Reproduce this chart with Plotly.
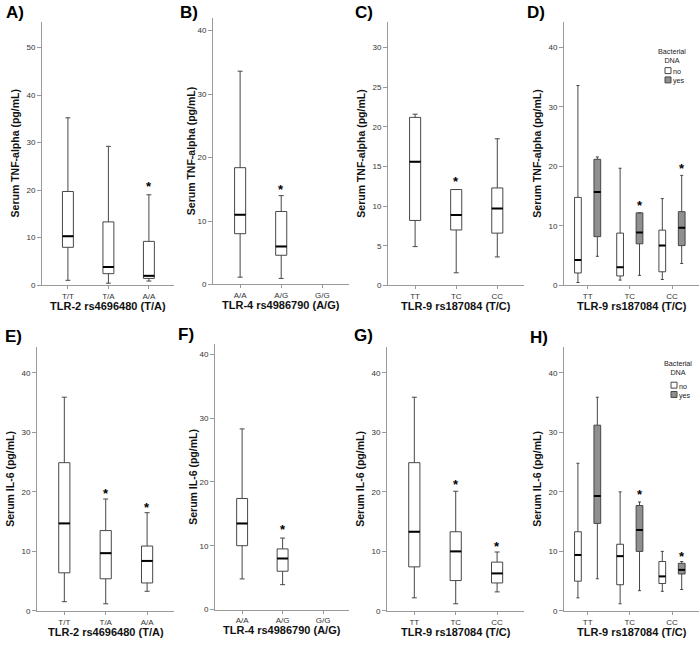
import plotly.graph_objects as go

W, H = 700, 646

# ---------------- data ----------------
tlr2_cats = ["T/T", "T/A", "A/A"]
tlr4_cats = ["A/A", "A/G", "G/G"]
tlr9_cats = ["TT", "TC", "CC"]

# A) TNF-alpha by TLR-2 rs4696480
a_low = [1.0, 0.4, 0.85]
a_q1 = [7.95, 2.4, 1.4]
a_med = [10.3, 3.8, 1.95]
a_q3 = [19.7, 13.3, 9.2]
a_high = [35.2, 29.2, 19.0]
a_star = [None, None, 21.3]

# B) TNF-alpha by TLR-4 rs4986790 (no G/G)
b_low = [1.15, 0.95, None]
b_q1 = [8.0, 4.6, None]
b_med = [11.0, 6.0, None]
b_q3 = [18.4, 11.5, None]
b_high = [33.6, 14.0, None]
b_star = [None, 15.5, None]

# C) TNF-alpha by TLR-9 rs187084
c_low = [4.9, 1.6, 3.6]
c_q1 = [8.2, 7.0, 6.6]
c_med = [15.6, 8.9, 9.7]
c_q3 = [21.2, 12.1, 12.3]
c_high = [21.6, 12.1, 18.5]
c_star = [None, 13.5, None]

# D) TNF-alpha by TLR-9 rs187084 and bacterial DNA
d_no_low = [0.5, 0.9, 1.0]
d_no_q1 = [2.1, 1.6, 2.3]
d_no_med = [4.3, 3.05, 6.7]
d_no_q3 = [14.8, 8.8, 9.3]
d_no_high = [33.6, 19.7, 14.6]
d_no_star = [None, None, None]
d_yes_low = [4.9, 1.7, 3.7]
d_yes_q1 = [8.2, 7.0, 6.7]
d_yes_med = [15.7, 8.9, 9.7]
d_yes_q3 = [21.2, 12.2, 12.4]
d_yes_high = [21.6, 12.2, 18.5]
d_yes_star = [None, 13.9, 20.2]

# E) IL-6 by TLR-2 rs4696480
e_low = [1.55, 1.2, 3.3]
e_q1 = [6.4, 5.4, 4.7]
e_med = [14.7, 9.7, 8.4]
e_q3 = [24.9, 13.5, 10.9]
e_high = [35.9, 18.8, 16.5]
e_star = [None, 20.3, 17.9]

# F) IL-6 by TLR-4 rs4986790 (no G/G)
f_low = [4.8, 3.9, None]
f_q1 = [10.0, 6.0, None]
f_med = [13.5, 8.0, None]
f_q3 = [17.4, 9.5, None]
f_high = [28.3, 11.2, None]
f_star = [None, 13.0, None]

# G) IL-6 by TLR-9 rs187084
g_low = [2.2, 1.2, 3.2]
g_q1 = [7.4, 5.1, 4.7]
g_med = [13.3, 10.0, 6.3]
g_q3 = [24.9, 13.3, 8.2]
g_high = [35.9, 20.1, 9.9]
g_star = [None, 21.7, 11.4]

# H) IL-6 by TLR-9 rs187084 and bacterial DNA
h_no_low = [2.2, 1.2, 3.3]
h_no_q1 = [5.0, 4.4, 4.6]
h_no_med = [9.4, 9.2, 5.8]
h_no_q3 = [13.3, 11.2, 8.3]
h_no_high = [24.8, 20.0, 10.0]
h_no_star = [None, None, None]
h_yes_low = [5.4, 3.4, 3.6]
h_yes_q1 = [14.7, 10.0, 6.2]
h_yes_med = [19.3, 13.6, 6.9]
h_yes_q3 = [31.2, 17.7, 8.0]
h_yes_high = [35.9, 18.3, 8.3]
h_yes_star = [None, 20.0, 9.7]

tnf_title = "Serum TNF-alpha (pg/mL)"
il6_title = "Serum IL-6 (pg/mL)"
x_titles = ["TLR-2 rs4696480 (T/A)", "TLR-4 rs4986790 (A/G)", "TLR-9 rs187084 (T/C)"]
legend_title = "Bacterial<br>DNA"
legend_labels = ["no", "yes"]

# ---------------- styling ----------------
WHITE = "#ffffff"
GREY_FILL = "#8f8f8f"
LINE = "#474747"
AXIS = "#9a9a9a"
FONT = "Liberation Sans"
SINGLE_W = 0.27
GROUP_W = 0.16
GROUP_OFF = 0.23
LEG_FONT = 7.2
LEG_LINE = LEG_FONT * 1.3


def ser(low, q1, med, q3, high, star, fill=WHITE, off=0.0, w=SINGLE_W):
    return dict(low=low, q1=q1, med=med, q3=q3, high=high, star=star,
                fill=fill, off=off, w=w)


def grouped(no, yes):
    return [ser(*no, fill=WHITE, off=-GROUP_OFF, w=GROUP_W),
            ser(*yes, fill=GREY_FILL, off=GROUP_OFF, w=GROUP_W)]


# layout boxes in pixels: x-axis span (left,right), y-axis span (bottom,top)
panels = [
    dict(lab="A)", labxy=(4, 12.5), xs=(42, 174), ys=(287.3, 22), xr=[-0.64, 2.62], ymax=55.4, dt=10,
         cats=tlr2_cats, yt=tnf_title, xt=x_titles[0],
         series=[ser(a_low, a_q1, a_med, a_q3, a_high, a_star)]),
    dict(lab="B)", labxy=(178, 12.5), xs=(213, 349), ys=(286.7, 18), xr=[-0.66, 2.65], ymax=42.0, dt=10,
         cats=tlr4_cats, yt=tnf_title, xt=x_titles[1],
         series=[ser(b_low, b_q1, b_med, b_q3, b_high, b_star)]),
    dict(lab="C)", labxy=(353, 12.5), xs=(388, 524), ys=(287.7, 22), xr=[-0.66, 2.65], ymax=33.25, dt=5,
         cats=tlr9_cats, yt=tnf_title, xt=x_titles[2],
         series=[ser(c_low, c_q1, c_med, c_q3, c_high, c_star)]),
    dict(lab="D)", labxy=(525, 12.5), xs=(564, 699), ys=(287.7, 22), xr=[-0.56, 2.64], ymax=44.3, dt=10,
         cats=tlr9_cats, yt=tnf_title, xt=x_titles[2],
         series=grouped((d_no_low, d_no_q1, d_no_med, d_no_q3, d_no_high, d_no_star),
                        (d_yes_low, d_yes_q1, d_yes_med, d_yes_q3, d_yes_high, d_yes_star)),
         legend=dict(cx=672, ty=56, sx=665, sy=66.5)),
    dict(lab="E)", labxy=(3, 339), xs=(37, 174), ys=(615.7, 349.3), xr=[-0.66, 2.65], ymax=44.4, dt=10,
         cats=tlr2_cats, yt=il6_title, xt=x_titles[0],
         series=[ser(e_low, e_q1, e_med, e_q3, e_high, e_star)]),
    dict(lab="F)", labxy=(176, 337.5), xs=(215, 349), ys=(614.3, 346.7), xr=[-0.67, 2.64], ymax=41.6, dt=10,
         cats=tlr4_cats, yt=il6_title, xt=x_titles[1],
         series=[ser(f_low, f_q1, f_med, f_q3, f_high, f_star)]),
    dict(lab="G)", labxy=(352, 338.5), xs=(387, 524), ys=(615.7, 349.3), xr=[-0.66, 2.65], ymax=44.4, dt=10,
         cats=tlr9_cats, yt=il6_title, xt=x_titles[2],
         series=[ser(g_low, g_q1, g_med, g_q3, g_high, g_star)]),
    dict(lab="H)", labxy=(528, 340), xs=(564, 699), ys=(615.7, 349.3), xr=[-0.56, 2.64], ymax=44.4, dt=10,
         cats=tlr9_cats, yt=il6_title, xt=x_titles[2],
         series=grouped((h_no_low, h_no_q1, h_no_med, h_no_q3, h_no_high, h_no_star),
                        (h_yes_low, h_yes_q1, h_yes_med, h_yes_q3, h_yes_high, h_yes_star)),
         legend=dict(cx=678, ty=371, sx=671, sy=383.5)),
]


def fx(px):
    return px / W


def fy(py):
    return 1 - py / H


fig = go.Figure()
annotations = []
shapes = []
layout_axes = {}

for i, p in enumerate(panels, start=1):
    sfx = "" if i == 1 else str(i)
    xref, yref = "x" + sfx, "y" + sfx
    x0, x1 = p["xs"]
    yb, yt = p["ys"]
    layout_axes["xaxis" + sfx] = dict(
        domain=[fx(x0), fx(x1)], range=p["xr"], anchor=yref,
        tickvals=list(range(len(p["cats"]))), ticktext=p["cats"],
        showline=True, linecolor=AXIS, linewidth=1, ticks="outside", ticklen=3,
        tickcolor=AXIS, showgrid=False, zeroline=False,
        tickfont=dict(family=FONT, size=8, color="#333333"), fixedrange=True)
    ticks = []
    v = 0
    while v <= p["ymax"] + 1e-9:
        ticks.append(v)
        v += p["dt"]
    layout_axes["yaxis" + sfx] = dict(
        domain=[fy(yb), fy(yt)], range=[0, p["ymax"]], anchor=xref,
        tickvals=ticks, showline=True, linecolor=AXIS, linewidth=1,
        ticks="outside", ticklen=4, tickcolor=AXIS, showgrid=False, zeroline=False,
        tickfont=dict(family=FONT, size=8, color="#333333"), fixedrange=True)

    for s in p["series"]:
        idx = [k for k, m in enumerate(s["med"]) if m is not None]
        pos = [k + s["off"] for k in idx]
        fig.add_trace(go.Box(
            x=pos,
            q1=[s["q1"][k] for k in idx], median=[s["med"][k] for k in idx],
            q3=[s["q3"][k] for k in idx], lowerfence=[s["low"][k] for k in idx],
            upperfence=[s["high"][k] for k in idx],
            width=s["w"], whiskerwidth=0.45, fillcolor=s["fill"],
            line=dict(color=LINE, width=1), boxpoints=False,
            xaxis=xref, yaxis=yref, hoverinfo="skip", showlegend=False))
        mx, my = [], []
        for k in idx:
            mx += [k + s["off"] - s["w"] / 2, k + s["off"] + s["w"] / 2, None]
            my += [s["med"][k], s["med"][k], None]
        fig.add_trace(go.Scatter(x=mx, y=my, mode="lines", line=dict(color="black", width=2),
                                 xaxis=xref, yaxis=yref, hoverinfo="skip", showlegend=False))
        for k, st in enumerate(s["star"]):
            if st is not None:
                annotations.append(dict(x=k + s["off"], y=st, xref=xref, yref=yref, text="<b>*</b>",
                                        showarrow=False, yshift=-3,
                                        font=dict(family=FONT, size=13, color="black")))

    # panel label
    lx, ly = p["labxy"]
    annotations.append(dict(x=fx(lx), y=fy(ly), xref="paper", yref="paper", text="<b>%s</b>" % p["lab"],
                            showarrow=False, xanchor="left", yanchor="middle",
                            font=dict(family=FONT, size=17, color="black")))
    # y title
    yc = (yb + yt) / 2
    ytx = x0 - 27 if i not in (2, 6) else x0 - 22
    annotations.append(dict(x=fx(ytx), y=fy(yc), xref="paper", yref="paper", text="<b>%s</b>" % p["yt"],
                            textangle=-90, showarrow=False, xanchor="center", yanchor="middle",
                            font=dict(family=FONT, size=10.5, color="#111111")))
    # x title
    xty = yb + 21
    annotations.append(dict(x=fx((x0 + x1) / 2), y=fy(xty), xref="paper", yref="paper",
                            text="<b>%s</b>" % p["xt"], showarrow=False, xanchor="center",
                            yanchor="middle", font=dict(family=FONT, size=11, color="#111111")))

    # legend (custom: title + two swatches)
    if "legend" in p:
        lg = p["legend"]
        annotations.append(dict(x=fx(lg["cx"]), y=fy(lg["ty"]), xref="paper", yref="paper",
                                text=legend_title, showarrow=False, xanchor="center", yanchor="middle",
                                borderpad=0,
                                font=dict(family=FONT, size=LEG_FONT, color="#222222")))
        for j, col in enumerate([WHITE, GREY_FILL]):
            sy0 = lg["sy"] + j * LEG_LINE + (LEG_LINE - 6) / 2
            shapes.append(dict(type="rect", xref="paper", yref="paper",
                               x0=fx(lg["sx"]), x1=fx(lg["sx"] + 6), y0=fy(sy0 + 6), y1=fy(sy0),
                               fillcolor=col, line=dict(color=LINE, width=1)))
        annotations.append(dict(x=fx(lg["sx"] + 7), y=fy(lg["sy"]), xref="paper", yref="paper",
                                text="<br>".join(legend_labels), showarrow=False, xanchor="left",
                                yanchor="top", align="left", borderpad=0,
                                font=dict(family=FONT, size=LEG_FONT, color="#222222")))

fig.update_layout(
    width=W, height=H, margin=dict(l=0, r=0, t=0, b=0),
    paper_bgcolor="white", plot_bgcolor="white", showlegend=False,
    boxmode="overlay", annotations=annotations, shapes=shapes, **layout_axes)

fig.write_html("out.html", config={"displayModeBar": False},
               post_script="document.body.style.margin='0';document.body.style.overflow='hidden';")
